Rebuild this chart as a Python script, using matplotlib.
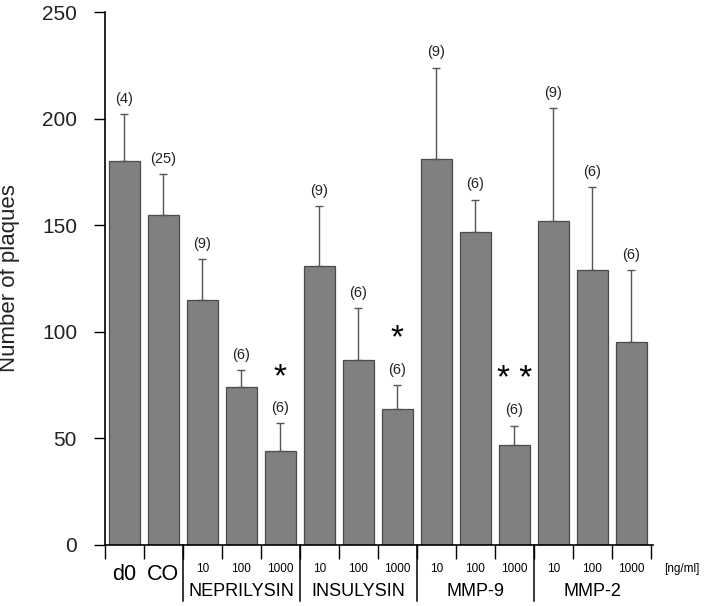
import numpy as np
import matplotlib.pyplot as plt
import matplotlib.transforms as mtransforms

plt.rcParams['font.family'] = ['Liberation Sans', 'DejaVu Sans']

# === data ===
values = [180, 155, 115, 74, 44, 131, 87, 64, 181, 147, 47, 152, 129, 95]
err_top = [202, 174, 134, 82, 57, 159, 111, 75, 224, 162, 56, 205, 168, 129]
n_labels = ['(4)', '(25)', '(9)', '(6)', '(6)', '(9)', '(6)', '(6)',
            '(9)', '(6)', '(6)', '(9)', '(6)', '(6)']
stars = {4: '*', 7: '*', 10: '* *'}
conc_labels = ['10', '100', '1000']
control_labels = ['d0', 'CO']
group_names = ['NEPRILYSIN', 'INSULYSIN', 'MMP-9', 'MMP-2']

x = np.arange(len(values))
errs = np.array(err_top) - np.array(values)

fig = plt.figure(figsize=(7.08, 6.06), dpi=100)
ax = fig.add_axes([0.148, 0.1007, 0.774, 0.8793])

ax.bar(x, values, width=0.8, color='#808080', edgecolor='#4a4a4a', linewidth=0.9)
ax.errorbar(x, values, yerr=[np.zeros(len(values)), errs], fmt='none',
            ecolor='#555555', elinewidth=1, capsize=3, capthick=1)

# n labels and significance
for i in x:
    ax.annotate(n_labels[i], (i, err_top[i]), xytext=(0, 6), textcoords='offset points',
                ha='center', va='bottom', fontsize=10.5, color='#222222')
    if i in stars:
        ax.annotate(stars[i], (i, err_top[i]), xytext=(0, 22), textcoords='offset points',
                    ha='center', va='bottom', fontsize=24, color='black')

ax.set_xlim(-0.5, 13.55)
ax.set_ylim(0, 250)
ax.set_yticks([0, 50, 100, 150, 200, 250])
ax.tick_params(axis='y', direction='out', length=8, labelsize=15, width=1, pad=12,
               labelcolor='#222222')
ax.spines['top'].set_visible(False)
ax.spines['right'].set_visible(False)
ax.spines['left'].set_linewidth(1.2)
ax.spines['bottom'].set_linewidth(1.2)
ax.set_ylabel('Number of plaques', fontsize=16, color='#222222')
ax.yaxis.set_label_coords(-0.155, 0.5)

# x ticks at bar boundaries
ax.set_xticks(np.arange(len(values) + 1) - 0.5)
ax.set_xticklabels([])
ax.tick_params(axis='x', direction='out', length=10, width=1)

trans = mtransforms.blended_transform_factory(ax.transData, ax.transAxes)

# control labels
for i, lab in enumerate(control_labels):
    ax.text(i, -0.055, lab, transform=trans, ha='center', va='center', fontsize=15.5)

# concentration labels and group names
for g, name in enumerate(group_names):
    start = 2 + 3 * g
    for k, c in enumerate(conc_labels):
        ax.text(start + k, -0.045, c, transform=trans, ha='center', va='center', fontsize=8.5)
    ax.text(start + 1, -0.087, name, transform=trans, ha='center', va='center', fontsize=13)

# separator lines
for b in [1.5, 4.5, 7.5, 10.5]:
    ax.plot([b, b], [0, -0.105], transform=trans, color='black', lw=1.1, clip_on=False)

ax.text(14.3, -0.045, '[ng/ml]', transform=trans, ha='center', va='center', fontsize=8.5)

fig.savefig('out.png', dpi=100)
